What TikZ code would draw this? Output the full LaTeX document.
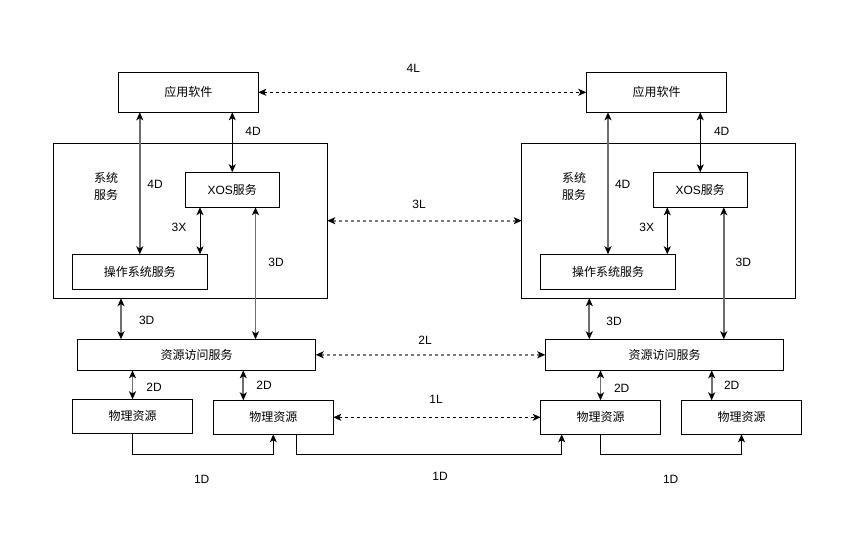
\documentclass[tikz,border=0pt]{standalone}
\usepackage{fontspec}
\setmainfont{Liberation Sans}
\newfontfamily\cjk{Noto Sans CJK SC}
\usetikzlibrary{arrows.meta,calc}
\definecolor{lgray}{RGB}{110,110,110}
\definecolor{dgray}{RGB}{120,120,120}
\tikzset{
  txt/.style={font=\fontsize{9}{11}\selectfont, inner sep=0pt, outer sep=0pt},
  box/.style={txt, draw=black, line width=0.75pt, fill=white},
  tipk/.tip={Stealth[length=6pt,width=5.25pt,inset=1.6pt,color=black]},
  arrk/.style={tipk-tipk, draw=black, line width=0.75pt},
  arrg/.style={tipk-tipk, draw=lgray, line width=1.3pt},
  arr1/.style={-tipk, draw=black, line width=0.75pt},
  dashk/.style={tipk-tipk, draw=black, line width=0.75pt, dash pattern=on 2.25pt off 2.25pt},
  dashg/.style={tipk-tipk, draw=dgray, line width=1.4pt, dash pattern=on 2.25pt off 2.25pt},
}
\begin{document}
\begin{tikzpicture}[x=0.75pt,y=-0.75pt]
\useasboundingbox (0,0) rectangle (858,539);

% left stack
\node[box, minimum width=105pt, minimum height=30pt] (app1) at (188.3,92.3) {\cjk 应用软件};
\node[box, minimum width=205.5pt, minimum height=116.25pt] (sys1) at (190.3,220.7) {};
\node[box, minimum width=70.5pt, minimum height=26.25pt] (xos1) at (232.3,189.7) {XOS{\cjk 服务}};
\node[box, minimum width=101.25pt, minimum height=26.25pt] (os1) at (139.8,271.8) {\cjk 操作系统服务};
\node[box, minimum width=178.8pt, minimum height=23.25pt] (res1) at (196.5,354.8) {\cjk 资源访问服务};
\node[box, minimum width=90.3pt, minimum height=25.5pt] (phys1) at (132.5,416.3) {\cjk 物理资源};
\node[box, minimum width=90pt, minimum height=25.5pt] (phys2) at (273.3,417.3) {\cjk 物理资源};
\node[txt, align=left, font=\fontsize{9}{12.75}\selectfont] (sysl1) at (106,186.5) {\cjk 系统\\\cjk 服务};

% right stack
\node[box, minimum width=105.3pt, minimum height=30pt] (app2) at (656.5,92.3) {\cjk 应用软件};
\node[box, minimum width=205.5pt, minimum height=116.25pt] (sys2) at (658.7,220.7) {};
\node[box, minimum width=70.5pt, minimum height=26.25pt] (xos2) at (700.3,189.8) {XOS{\cjk 服务}};
\node[box, minimum width=101.5pt, minimum height=26.25pt] (os2) at (608,271.8) {\cjk 操作系统服务};
\node[box, minimum width=178.8pt, minimum height=23.25pt] (res2) at (664.5,354.8) {\cjk 资源访问服务};
\node[box, minimum width=89.7pt, minimum height=25.5pt] (phys3) at (600.5,417.3) {\cjk 物理资源};
\node[box, minimum width=90.3pt, minimum height=25.5pt] (phys4) at (741.5,417.3) {\cjk 物理资源};
\node[txt, align=left, font=\fontsize{9}{12.75}\selectfont] (sysl2) at (574,186.5) {\cjk 系统\\\cjk 服务};

% x positions of vertical connectors
\coordinate (x3x1) at (200,0);
\coordinate (x3d1) at (255.5,0);
\coordinate (xsr1) at (121,0);
\coordinate (x2d1) at (243.3,0);
\coordinate (x3x2) at (667.3,0);
\coordinate (x3d2) at (723.8,0);
\coordinate (xsr2) at (589.3,0);
\coordinate (x2d2) at (711.7,0);
\coordinate (yb) at (0,454);
\coordinate (xa) at (296.7,0);
\coordinate (xb) at (561.7,0);

% left vertical connectors
\draw[arrg] (app1.south -| os1.north) -- (os1.north);
\draw[arrk] (app1.south -| xos1.north) -- (xos1.north);
\draw[arrk] (xos1.south -| x3x1) -- (os1.north -| x3x1);
\draw[arrg] (xos1.south -| x3d1) -- (res1.north -| x3d1);
\draw[arrg] (sys1.south -| xsr1) -- (res1.north -| xsr1);
\draw[arrg] (res1.south -| phys1.north) -- (phys1.north);
\draw[arrg] (res1.south -| x2d1) -- (phys2.north -| x2d1);

% right vertical connectors
\draw[arrg] (app2.south -| os2.north) -- (os2.north);
\draw[arrk] (app2.south -| xos2.north) -- (xos2.north);
\draw[arrk] (xos2.south -| x3x2) -- (os2.north -| x3x2);
\draw[arrg] (xos2.south -| x3d2) -- (res2.north -| x3d2);
\draw[arrg] (sys2.south -| xsr2) -- (res2.north -| xsr2);
\draw[arrg] (res2.south -| phys3.north) -- (phys3.north);
\draw[arrg] (res2.south -| x2d2) -- (phys4.north -| x2d2);

% horizontal links
\draw[dashk] (app1.east) -- (app2.west);
\draw[dashg] (sys1.east) -- (sys2.west);
\draw[dashg] (res1.east) -- (res2.west);
\draw[dashk] (phys2.east) -- (phys3.west);

% 1D connectors
\draw[arr1] (phys1.south) -- (phys1.south |- yb) -| (phys2.south);
\draw[arr1] (phys2.south -| xa) -- (xa |- yb) -| (phys3.south -| xb);
\draw[arr1] (phys3.south) -- (phys3.south |- yb) -| (phys4.south);

% labels
\node[txt] (l4L) at (413.3,68.3) {4L};
\node[txt] (l3L) at (419,204) {3L};
\node[txt] (l2L) at (425,340.7) {2L};
\node[txt] (l1L) at (436,399) {1L};
\node[txt] (l4Da) at (253,131) {4D};
\node[txt] (l4Db) at (721.7,131) {4D};
\node[txt] (l4Dc) at (155,184) {4D};
\node[txt] (l4Dd) at (622.7,184) {4D};
\node[txt] (l3Xa) at (179,227) {3X};
\node[txt] (l3Xb) at (646.7,227) {3X};
\node[txt] (l3Da) at (276,262) {3D};
\node[txt] (l3Db) at (743.3,262) {3D};
\node[txt] (l3Dc) at (146.7,320.7) {3D};
\node[txt] (l3Dd) at (614,321) {3D};
\node[txt] (l2Da) at (154,387) {2D};
\node[txt] (l2Db) at (264,385) {2D};
\node[txt] (l2Dc) at (621.7,388) {2D};
\node[txt] (l2Dd) at (731.7,385) {2D};
\node[txt] (l1Da) at (201.7,479) {1D};
\node[txt] (l1Db) at (440,476.7) {1D};
\node[txt] (l1Dc) at (670.7,479) {1D};
\end{tikzpicture}
\end{document}
